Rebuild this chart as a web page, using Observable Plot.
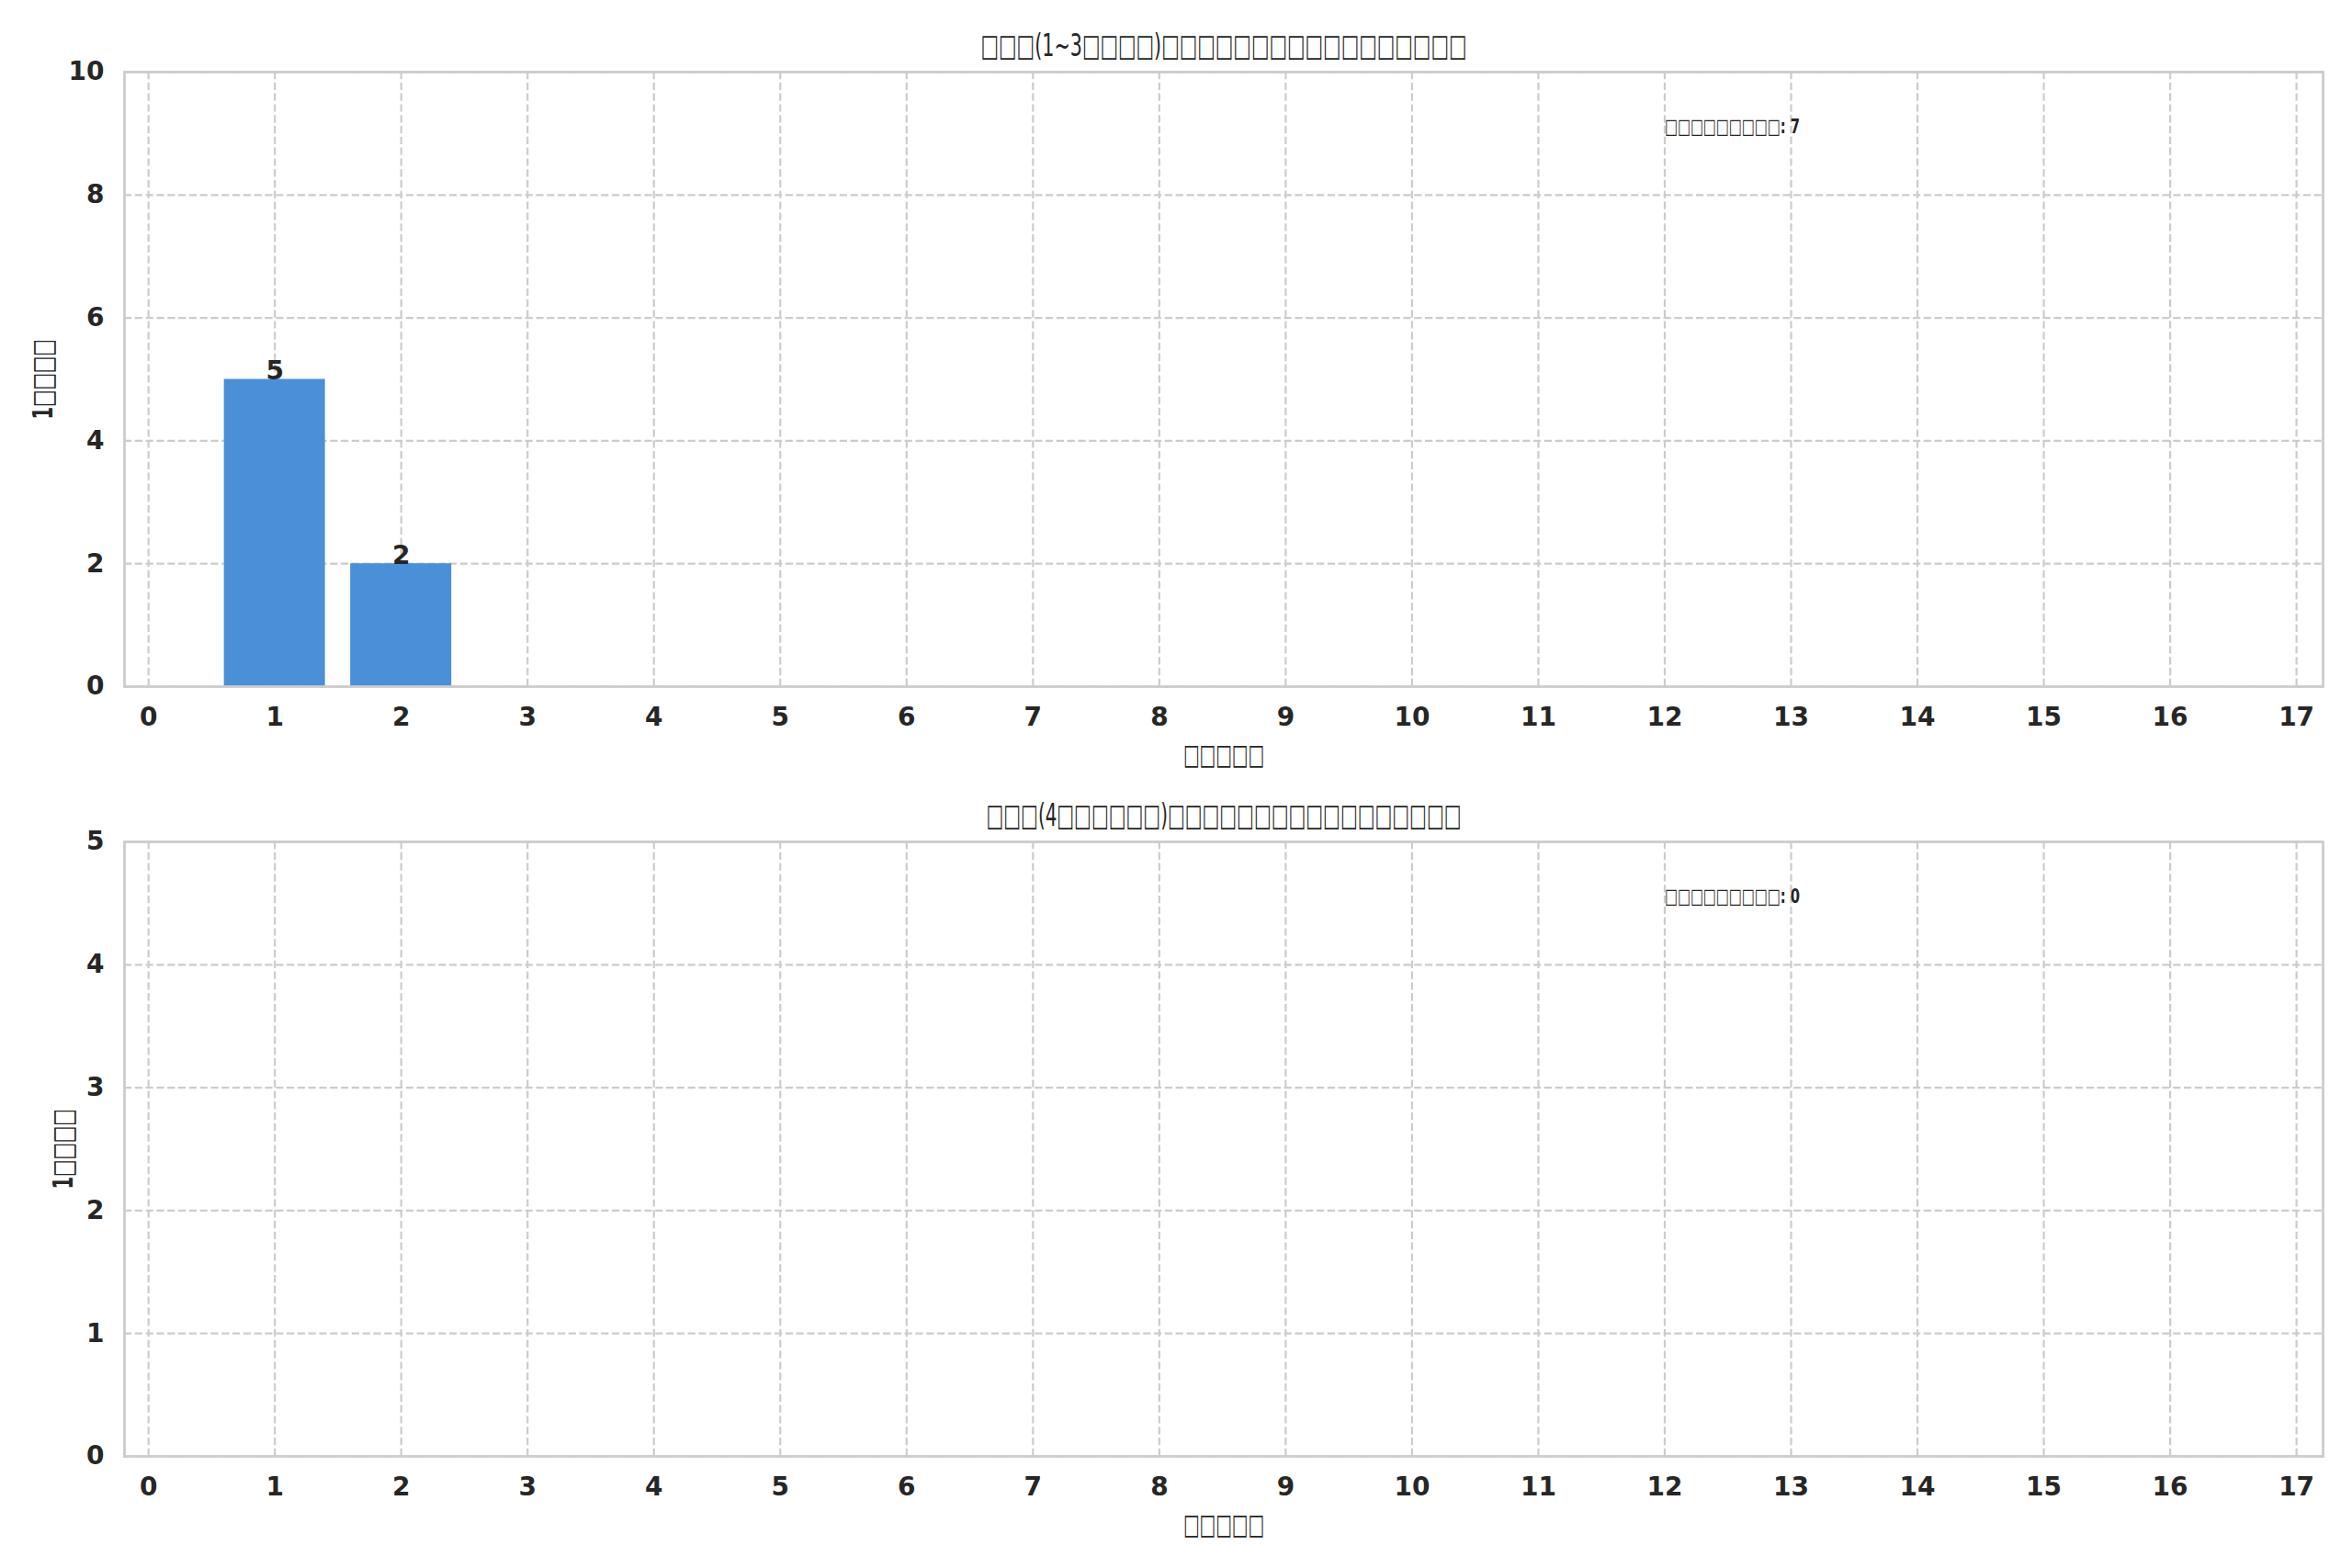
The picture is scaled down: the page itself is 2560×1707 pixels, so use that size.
<!DOCTYPE html>
<html><head><meta charset="utf-8">
<script src="https://cdn.jsdelivr.net/npm/d3@7"></script>
<script src="https://cdn.jsdelivr.net/npm/@observablehq/plot@0.6"></script>
<style>
html,body{margin:0;padding:0;background:#fff;}
#chart{width:2560px;height:1707px;overflow:hidden;background:#fff;}
#chart svg{display:block;}
</style></head><body><div id="chart"></div>
<script>
// ---- data ----
const hourTicks = [0,1,2,3,4,5,6,7,8,9,10,11,12,13,14,15,16,17];
const countsShort = [0,5,2,0,0,0,0,0,0,0,0,0,0,0,0,0,0,0];
const countsLong  = [0,0,0,0,0,0,0,0,0,0,0,0,0,0,0,0,0,0];
const yTicksShort = [0,2,4,6,8,10];
const yTicksLong  = [0,1,2,3,4,5];
const yMaxShort = 10;
const yMaxLong = 5;
const totalShort = 7;
const totalLong = 0;
const titleShort = "□□□(1~3□□□□)□□□□□□□□□□□□□□□□□";
const titleLong  = "□□□(4□□□□□□)□□□□□□□□□□□□□□□□□";
const xLabelText = "□□□□□";
const yLabelText = "1□□□□";
const totalLabel = "□□□□□□□□□";
const annotHour = 12;

// ---- style ----
const textColor = "#262626";
const gridColor = "#cccccc";
const barColor = "#4a90d9";

// rendered widths (px) of the texts with missing-glyph boxes, as in the reference
const textWidths = {title1: 529, title2: 517, xlabel: 88, ylabel: 87, annot: 147};

function panel({counts, title, titleKey, yMax, yTicks, total, height, marginBottom, yLabelDx}) {
  const data = hourTicks.map((h, i) => ({hour: h, count: counts[i]}));
  const labeled = data.filter(d => d.count > 0);
  const gridOpts = {stroke: gridColor, strokeOpacity: 1, strokeWidth: 2.2, strokeDasharray: "8.2,3.6"};
  const svg = Plot.plot({
    width: 2560, height, marginTop: 78, marginBottom, marginLeft: 135, marginRight: 32,
    style: {background: "#fff", color: textColor, fontFamily: "DejaVu Sans", fontSize: "28px"},
    x: {type: "linear", domain: [-0.19, 17.21], axis: null},
    y: {type: "linear", domain: [0, yMax], axis: null},
    marks: [
      Plot.gridX(hourTicks, gridOpts),
      Plot.gridY(yTicks, gridOpts),
      Plot.rectY(data, {x1: d => d.hour - 0.4, x2: d => d.hour + 0.4, y: "count", fill: barColor}),
      Plot.frame({stroke: gridColor, strokeWidth: 2.8}),
      Plot.axisX(hourTicks, {tickSize: 0, tickPadding: 23, fontSize: 28, fontWeight: "bold", label: null, tickFormat: d => String(d), fill: textColor}),
      Plot.axisY(yTicks, {tickSize: 0, tickPadding: 22, fontSize: 28, fontWeight: "bold", label: null, tickFormat: d => String(d), fill: textColor}),
      Plot.text(labeled, {x: "hour", y: "count", text: d => String(d.count), lineAnchor: "bottom", fontSize: 28, fontWeight: "bold", fill: textColor}),
      Plot.text([`${totalLabel}: ${total}`], {x: () => annotHour, y: () => 0.9 * yMax, textAnchor: "start", lineAnchor: "bottom", fontSize: 22, fontWeight: "bold", fill: textColor, ariaLabel: () => "annot"}),
      Plot.text([title], {frameAnchor: "top", dy: -28, lineAnchor: "middle", fontSize: 34, fontWeight: "normal", fill: textColor, ariaLabel: () => titleKey}),
      Plot.text([xLabelText], {frameAnchor: "bottom", dy: 75, lineAnchor: "middle", fontSize: 31, fontWeight: "bold", fill: textColor, ariaLabel: () => "xlabel"}),
      Plot.text([yLabelText], {frameAnchor: "left", dx: yLabelDx, rotate: -90, textAnchor: "middle", lineAnchor: "middle", fontSize: 31, fontWeight: "bold", fill: textColor, ariaLabel: () => "ylabel"})
    ]
  });
  // fit the box-glyph texts to the reference widths
  for (const key of Object.keys(textWidths)) {
    d3.select(svg).selectAll(`text[aria-label="${key}"], g[aria-label="${key}"] text`)
      .attr("textLength", textWidths[key])
      .attr("lengthAdjust", "spacingAndGlyphs");
  }
  return svg;
}

const chart = document.getElementById("chart");
chart.appendChild(panel({counts: countsShort, title: titleShort, titleKey: "title1", yMax: yMaxShort, yTicks: yTicksShort, total: totalShort, height: 838, marginBottom: 91, yLabelDx: -88}));
chart.appendChild(panel({counts: countsLong, title: titleLong, titleKey: "title2", yMax: yMaxLong, yTicks: yTicksLong, total: totalLong, height: 869, marginBottom: 122, yLabelDx: -66}));
</script>
</body></html>
